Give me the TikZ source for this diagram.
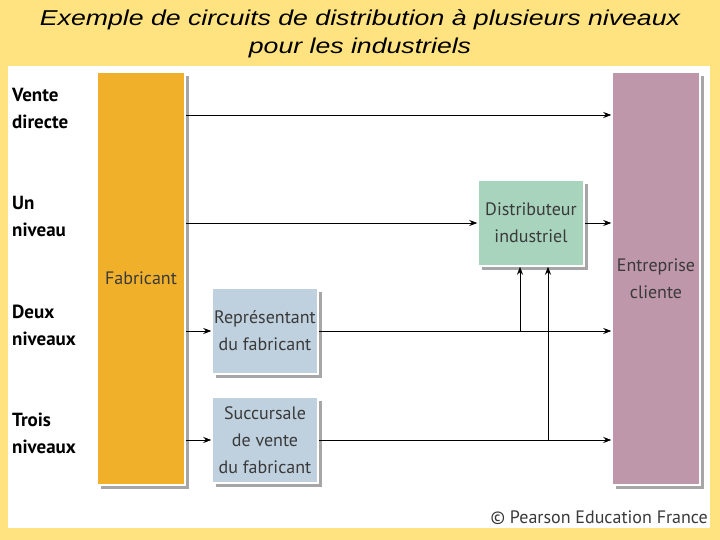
\documentclass[tikz,border=0pt]{standalone}
\usepackage{fontspec}
\setmainfont{PT Sans}
\newfontfamily\titlefont{Liberation Sans}
\usetikzlibrary{arrows.meta}
\definecolor{bgy}{HTML}{FFE380}
\definecolor{orng}{HTML}{F0B02A}
\definecolor{pnk}{HTML}{BF97AA}
\definecolor{grn}{HTML}{A8D4BE}
\definecolor{blu}{HTML}{BFD0DE}
\definecolor{txt}{HTML}{3A3A3A}
\begin{document}
\begin{tikzpicture}[x=1pt,y=-1pt,
  box/.style={draw=white,line width=1.5pt,inner sep=0pt,text=txt,font=\fontsize{18}{27}\selectfont,align=center},
  shadow/.style={fill=gray!70},
  arr/.style={-{Stealth[length=8pt,width=6pt]},line width=0.7pt,black},
  lab/.style={anchor=north west,align=left,font=\bfseries\fontsize{19}{27}\selectfont,inner sep=0pt}]
\fill[bgy] (0,0) rectangle (720,540);
\useasboundingbox (0,0) rectangle (720,540);
\fill[white] (8,66) rectangle (710,528);
\node[font=\titlefont\itshape\fontsize{21.5}{28}\selectfont,align=center,xscale=1.24] (title) at (360,34) {Exemple de circuits de distribution à plusieurs niveaux\\pour les industriels};
% shadows
\fill[shadow] (101,76) rectangle (189,489);
\fill[shadow] (616,76) rectangle (704,489);
\fill[shadow] (482,184) rectangle (588,270);
\fill[shadow] (216,292) rectangle (322,378);
\fill[shadow] (216,401) rectangle (322,487);
\node[box,fill=orng,minimum width=88,minimum height=413] (fab) at (141,278.5) {Fabricant};
\node[box,fill=pnk,minimum width=88,minimum height=413] (ent) at (656,278.5) {Entreprise\\cliente};
\node[box,fill=grn,minimum width=106,minimum height=86] (dist) at (531,223) {Distributeur\\industriel};
\node[box,fill=blu,minimum width=106,minimum height=86] (rep) at (265,331) {Représentant\\du fabricant};
\node[box,fill=blu,minimum width=106,minimum height=86] (succ) at (265,440) {Succursale\\de vente\\du fabricant};
\node[lab] (l1) at (12,88) {Vente\\directe};
\node[lab] (l2) at (12,196) {Un\\niveau};
\node[lab] (l3) at (12,305) {Deux\\niveaux};
\node[lab] (l4) at (12,413) {Trois\\niveaux};
\draw[arr] (fab.east|-0,115) -- (ent.west|-0,115);
\draw[arr] (fab.east|-dist.west) -- (dist.west);
\draw[arr] (dist.east) -- (ent.west|-dist.east);
\draw[arr] (fab.east|-rep.west) -- (rep.west);
\draw[arr] (rep.east) -- (ent.west|-rep.east);
\draw[arr] (fab.east|-succ.west) -- (succ.west);
\draw[arr] (succ.east) -- (ent.west|-succ.east);
\coordinate (v1) at (520,331);
\coordinate (v2) at (548,440);
\draw[arr] (v1) -- (v1|-dist.south);
\draw[arr] (v2) -- (v2|-dist.south);
\node[anchor=east,font=\fontsize{18}{20}\selectfont,text=txt,inner sep=0pt] (copy) at (708,518) {© Pearson Education France};
\end{tikzpicture}
\end{document}
